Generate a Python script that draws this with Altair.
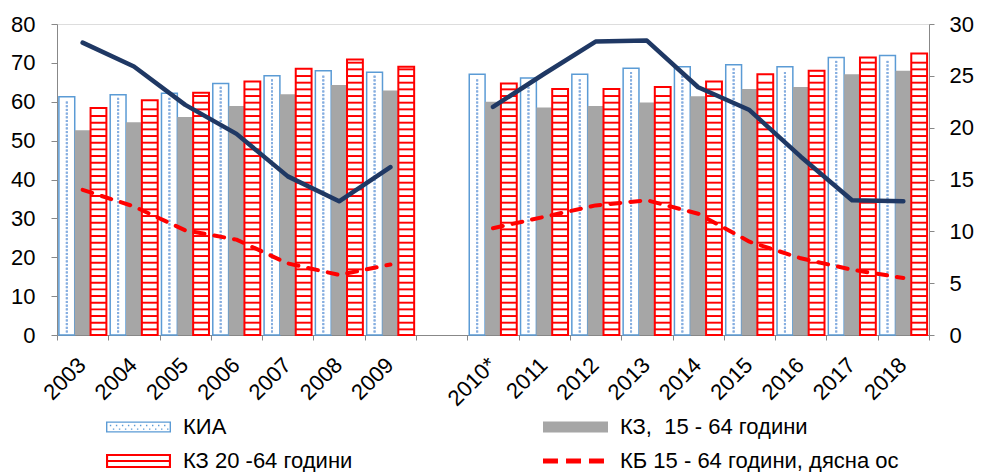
import altair as alt
import pandas as pd
import numpy as np

# ---------------- data ----------------
years = ["2003", "2004", "2005", "2006", "2007", "2008", "2009", "gap",
         "2010*", "2011", "2012", "2013", "2014", "2015", "2016", "2017", "2018"]
data_years = ["2003", "2004", "2005", "2006", "2007", "2008", "2009",
              "2010*", "2011", "2012", "2013", "2014", "2015", "2016", "2017", "2018"]
kia = [61.3, 61.8, 62.2, 64.7, 66.7, 68.0, 67.6, 67.1, 66.1, 67.1, 68.6, 69.0, 69.5, 69.0, 71.4, 71.9]
kz15 = [52.7, 54.7, 56.1, 58.9, 61.9, 64.3, 62.9, 60.0, 58.5, 58.9, 59.8, 61.4, 63.3, 63.8, 67.1, 68.0]
kz20 = [58.4, 60.4, 62.3, 65.2, 68.5, 70.9, 69.0, 64.7, 63.3, 63.3, 63.8, 65.2, 67.1, 68.0, 71.4, 72.4]
youth = [28.2, 25.9, 22.2, 19.4, 15.3, 12.9, 16.2, 22.0, 25.2, 28.3, 28.4, 23.9, 21.7, 17.2, 13.0, 12.9]
kb = [14.0, 12.4, 10.1, 9.2, 6.9, 5.8, 6.8, 10.3, 11.4, 12.5, 13.0, 11.7, 9.0, 7.4, 6.3, 5.5]
segment = [1] * 7 + [2] * 9

bar_series = ["КИА", "КЗ15", "КЗ20"]
# legend order (laid out column by column): КИА, КЗ 20-64 | КЗ 15-64, КБ
legend_names = ["КИА", "КЗ 20 -64 години", "КЗ,\u00a0 15 - 64 години", "КБ 15 - 64 години, дясна ос"]
legend_colors = ["#5B9BD5", "#FF0000", "#A6A6A6", "#FF0000"]

FONT = "Liberation Sans"

# ---------------- tables ----------------
bars = pd.DataFrame({
    "year": data_years * 3,
    "series": ["КИА"] * 16 + ["КЗ15"] * 16 + ["КЗ20"] * 16,
    "value": kia + kz15 + kz20,
})

# horizontal stripe pattern inside the КЗ 20-64 bars
stripe_rows = []
for yr, v in zip(data_years, kz20):
    for s in np.arange(1.2, v - 0.9, 1.715):
        stripe_rows.append({"year": yr, "series": "КЗ20", "y": s, "y2": s + 0.5})
stripes = pd.DataFrame(stripe_rows)

# dotted pattern inside the КИА bars
dot_rows = []
for yr, v in zip(data_years, kia):
    r = 0
    for s in np.arange(0.9, v - 0.7, 0.95):
        dot_rows.append({"year": yr, "series": "КИА", "y": s, "par": r % 2})
        r += 1
dots = pd.DataFrame(dot_rows)

lines = pd.DataFrame({
    "year": data_years * 2,
    "kind": ["youth"] * 16 + ["kb"] * 16,
    "rv": youth + kb,
    "seg": segment * 2,
})

# ---------------- shared encodings ----------------
x_enc = alt.X(
    "year:N",
    scale=alt.Scale(domain=years, paddingInner=0, paddingOuter=0),
    title=None,
    axis=alt.Axis(
        labelAngle=-45, labelAlign="right", labelBaseline="top",
        labelPadding=14, labelOffset=-8, tickBand="extent", tickSize=5,
        labelExpr="datum.value == 'gap' ? '' : datum.value",
        labelFontSize=22, labelOverlap=False, grid=False,
    ),
)
xoff_enc = alt.XOffset(
    "series:N",
    scale=alt.Scale(domain=bar_series, paddingInner=0, paddingOuter=0.12),
)
left_axis = alt.Axis(orient="left", values=list(range(0, 81, 10)), tickSize=6,
                     labelPadding=16, grid=False, labelFontSize=22)
left_scale = alt.Scale(domain=[0, 80], nice=False)
y_left = alt.Y("value:Q", scale=left_scale, title=None, axis=left_axis)
y_right = alt.Y(
    "rv:Q",
    scale=alt.Scale(domain=[0, 30], nice=False),
    title=None,
    axis=alt.Axis(orient="right", values=list(range(0, 31, 5)), tickSize=5,
                  labelPadding=15, grid=False, labelFontSize=22),
)

# ---------------- bar layers ----------------
bar_kia = alt.Chart(bars).transform_filter(alt.datum.series == "КИА").mark_bar(
    fill="white", stroke="#5B9BD5", strokeWidth=1.5
).encode(x=x_enc, xOffset=xoff_enc, y=y_left)

bar_gray = alt.Chart(bars).transform_filter(alt.datum.series == "КЗ15").mark_bar(
    fill="#A6A6A6", strokeWidth=0
).encode(x=x_enc, xOffset=xoff_enc, y=y_left)

bar_red = alt.Chart(bars).transform_filter(alt.datum.series == "КЗ20").mark_bar(
    fill="white", stroke="#FF0000", strokeWidth=2
).encode(x=x_enc, xOffset=xoff_enc, y=y_left)

stripe_layer = alt.Chart(stripes).mark_bar(fill="#FF0000", strokeWidth=0).encode(
    x=x_enc, xOffset=xoff_enc,
    y=alt.Y("y:Q", scale=left_scale, title=None, axis=left_axis),
    y2="y2:Q",
)

def dot_layer(par, dx):
    return alt.Chart(dots).transform_filter(alt.datum.par == par).mark_square(
        size=4, color="#86AEE0", opacity=1, dx=dx
    ).encode(
        x=x_enc, xOffset=xoff_enc,
        y=alt.Y("y:Q", scale=left_scale, title=None, axis=left_axis),
    )

left = alt.layer(
    bar_kia,
    dot_layer(0, -5), dot_layer(0, 1), dot_layer(1, -2), dot_layer(1, 4),
    bar_gray, bar_red, stripe_layer,
)

# ---------------- line layers ----------------
navy = alt.Chart(lines).transform_filter(alt.datum.kind == "youth").mark_line(
    color="#1F3864", strokeWidth=4.5, strokeCap="round", strokeJoin="round"
).encode(x=x_enc, y=y_right, detail="seg:N")

red_dash = alt.Chart(lines).transform_filter(alt.datum.kind == "kb").mark_line(
    color="#FF0000", strokeWidth=4, strokeDash=[10, 10], strokeCap="round", strokeJoin="round"
).encode(x=x_enc, y=y_right, detail="seg:N")

# ---------------- legend (symbol-only layer) ----------------
def rect(x0, y0, x1, y1, cw=True):
    if cw:
        return f"M{x0},{y0}H{x1}V{y1}H{x0}Z"
    return f"M{x0},{y0}V{y1}H{x1}V{y0}Z"

R = 8.286  # right end of the wide legend swatch (units of 7px)
kia_path = rect(-1, -0.8, R, 0.8) + rect(-0.8, -0.6, R - 0.2, 0.6, cw=False)
for row, yy in enumerate([-0.32, 0.2]):
    start = -0.45 if row == 0 else -0.02
    xx = start
    while xx < R - 0.4:
        kia_path += rect(round(xx, 3), yy, round(xx + 0.2, 3), yy + 0.2)
        xx += 0.86
gray_path = rect(-1, -0.8, R, 0.8)
red_path = rect(-1, -1.0, R, 1.0) + rect(-0.7, -0.7, R - 0.3, 0.7, cw=False) + rect(-0.7, -0.15, R - 0.3, 0.15)
dash_path = rect(-1, -0.36, 1.14, 0.36) + rect(2.29, -0.36, 4.43, 0.36) + rect(5.57, -0.36, 7.71, 0.36)
legend_paths = [kia_path, red_path, gray_path, dash_path]

leg = alt.Legend(
    title=None, orient="none", legendX=45, legendY=392, columns=2,
    columnPadding=186, rowPadding=12, symbolSize=196, symbolStrokeWidth=0,
    symbolOpacity=1, labelOffset=59, labelFontSize=22, labelFont=FONT,
    labelLimit=600, padding=0, labelColor="black",
)
legend_df = pd.DataFrame({"name": legend_names})
dummy = alt.Chart(legend_df).transform_filter("false").mark_point(
    filled=True, size=196, strokeWidth=0
).encode(
    color=alt.Color("name:N", scale=alt.Scale(domain=legend_names, range=legend_colors), legend=leg),
    shape=alt.Shape("name:N", scale=alt.Scale(domain=legend_names, range=legend_paths), legend=leg),
)

right = alt.layer(navy, red_dash, dummy)

chart = alt.layer(left, right).resolve_scale(
    y="independent", color="independent", shape="independent"
).properties(
    width=872, height=311, autosize="none",
    padding={"left": 49, "top": 16, "right": 45, "bottom": 137},
).configure_view(stroke=None).configure_axis(
    labelFont=FONT, labelColor="black", domainColor="#8C8C8C", tickColor="#8C8C8C",
    domainWidth=1.5, tickWidth=1.5,
).configure(background="white")

chart.save("out.html", embed_options={"renderer": "svg", "actions": False})
